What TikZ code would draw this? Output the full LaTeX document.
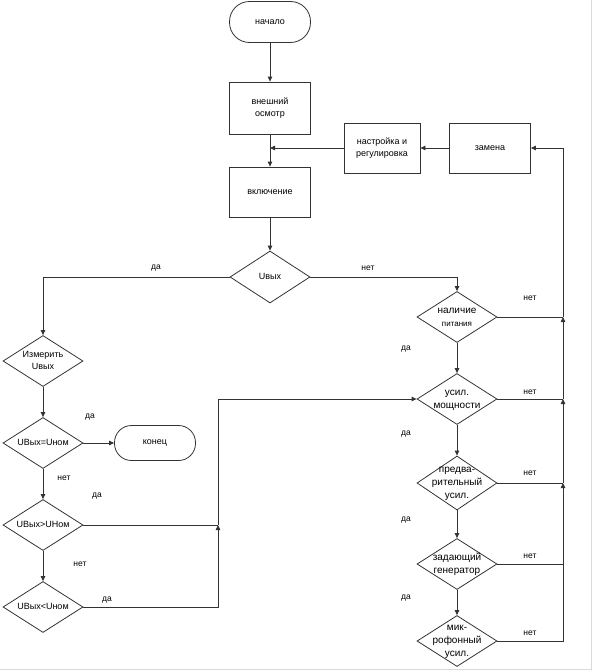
\documentclass[tikz,border=0pt]{standalone}
\usepackage{fontspec}
\setmainfont{Liberation Sans}
\usetikzlibrary{shapes.geometric,arrows.meta}

% text inside a diamond, allowed to run over the border
\newcommand{\dtext}[1]{\makebox[0pt]{\smash{\raisebox{-2.5pt}{\begin{tabular}{@{}c@{}}#1\end{tabular}}}}}

\tikzset{
  flow/.style={draw=black!80, line width=0.8pt},
  blockbox/.style={flow, rectangle, minimum width=81pt, minimum height=50pt,
    inner sep=1pt, align=center, font=\fontsize{9}{12}\selectfont},
  termbox/.style={flow, rectangle, rounded corners=18pt, minimum width=81pt,
    minimum height=38pt, align=center, font=\fontsize{9}{12}\selectfont},
  decision/.style={flow, diamond, minimum width=80pt, minimum height=51pt,
    inner sep=0pt, font=\fontsize{9}{12}\selectfont},
  bigdecision/.style={decision, font=\fontsize{10}{13}\selectfont},
  lbl/.style={inner sep=0pt, font=\fontsize{8.5}{10}\selectfont},
  go/.style={flow, -{Triangle[length=5pt,width=4.5pt]}},
  wire/.style={flow},
}

\begin{document}
\begin{tikzpicture}[x=1pt,y=-1pt]
  \useasboundingbox (0,0) rectangle (593,672);
  \draw[black!15, line width=1pt] (0,669) -- (591,669) -- (591,0);

  % main column
  \node[termbox, minimum height=41pt, rounded corners=20pt] (start) at (270,22) {начало};
  \node[blockbox, minimum height=52pt] (osm) at (270,108) {внешний\\осмотр};
  \node[blockbox] (vkl) at (270,192) {включение};
  \node[blockbox, minimum width=76pt] (nastr) at (382,148) {настройка и\\регулировка};
  \node[blockbox] (zam) at (490,148) {замена};
  \node[decision, minimum height=52pt] (uvyh) at (270,277) {\dtext{Uвых}};

  % left column
  \node[decision] (izm) at (43,361) {\dtext{Измерить\\Uвых}};
  \node[decision] (eq) at (43,443) {\dtext{UВых=Uном}};
  \node[termbox, minimum height=35pt, rounded corners=17pt] (kon) at (155,443) {конец};
  \node[decision] (gt) at (43,525) {\dtext{UВых>UНом}};
  \node[decision] (lt) at (43,607) {\dtext{UВых<Uном}};

  % right column
  \node[bigdecision] (nal) at (457,317) {\dtext{наличие\\{\fontsize{8}{10}\selectfont питания}}};
  \node[bigdecision] (usil) at (457,399) {\dtext{усил.\\мощности}};
  \node[bigdecision, minimum height=54pt] (pred) at (457,483) {\dtext{предва-\\рительный\\усил.}};
  \node[bigdecision] (zad) at (457,564) {\dtext{задающий\\генератор}};
  \node[bigdecision] (mik) at (457,641) {\dtext{мик-\\рофонный\\усил.}};

  \coordinate (rbus) at (563,148);
  \coordinate (lbus) at (218,399);

  % labels
  \node[lbl] (yes0) at (156,268) {да};
  \node[lbl] (no0) at (368,268) {нет};
  \node[lbl] (yes1) at (90,417) {да};
  \node[lbl] (no1) at (64,478) {нет};
  \node[lbl] (yes2) at (97,496) {да};
  \node[lbl] (no2) at (80,564) {нет};
  \node[lbl] (yes3) at (107,600) {да};
  \node[lbl] (no3) at (530,298) {нет};
  \node[lbl] (yes4) at (406,349) {да};
  \node[lbl] (no4) at (530,392) {нет};
  \node[lbl] (yes5) at (406,434) {да};
  \node[lbl] (no5) at (530,473) {нет};
  \node[lbl] (yes6) at (406,520) {да};
  \node[lbl] (no6) at (530,556) {нет};
  \node[lbl] (yes7) at (406,598) {да};
  \node[lbl] (no7) at (530,633) {нет};

  % connectors
  \draw[go] (start) -- (osm);
  \draw[go] (osm) -- (vkl);
  \draw[go] (nastr.west) -- (nastr.west -| osm.south);
  \draw[go] (zam) -- (nastr);
  \draw[go] (vkl) -- (uvyh);
  \draw[go] (uvyh.west) -| (izm.north);
  \draw[go] (uvyh.east) -| (nal.north);

  \draw[go] (izm) -- (eq);
  \draw[go] (eq) -- (kon);
  \draw[go] (eq) -- (gt);
  \draw[go] (gt) -- (lt);
  \draw[go] (lt.east) -- (lt.east -| lbus) -- (gt.east -| lbus);
  \draw[wire] (gt.east) -- (gt.east -| lbus);
  \draw[go] (gt.east -| lbus) |- (usil.west);

  \draw[go] (nal) -- (usil);
  \draw[go] (usil) -- (pred);
  \draw[go] (pred) -- (zad);
  \draw[go] (zad) -- (mik);

  \draw[wire] (mik.east) -- (mik.east -| rbus) -- (zad.east -| rbus);
  \draw[wire] (zad.east) -- (zad.east -| rbus);
  \draw[go] (zad.east -| rbus) -- (pred.east -| rbus);
  \draw[wire] (pred.east) -- (pred.east -| rbus);
  \draw[go] (pred.east -| rbus) -- (usil.east -| rbus);
  \draw[wire] (usil.east) -- (usil.east -| rbus);
  \draw[go] (usil.east -| rbus) -- (nal.east -| rbus);
  \draw[wire] (nal.east) -- (nal.east -| rbus);
  \draw[go] (nal.east -| rbus) -- (rbus) -- (zam.east);
\end{tikzpicture}
\end{document}
